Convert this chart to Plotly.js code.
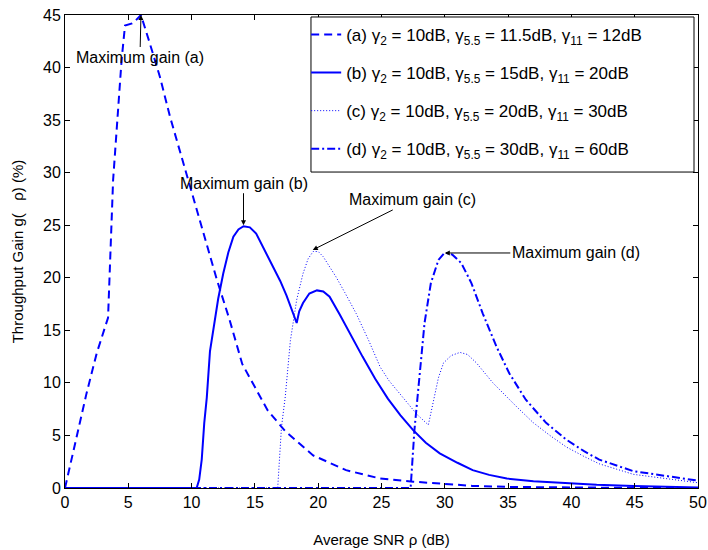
<!DOCTYPE html>
<html>
<head>
<meta charset="utf-8">
<script src="https://cdn.plot.ly/plotly-3.0.1.min.js"></script>
<style>html,body{margin:0;padding:0;background:#fff}#chart{width:708px;height:550px}</style>
</head>
<body>
<div id="chart"></div>
<script>
// Series (a)
const xA = [0, 0.9, 1.7, 2.5, 3.4, 3.8, 4.2, 4.47, 4.74, 5.0, 5.3, 5.6, 6.0, 6.7, 7.5, 8.3, 9.1, 9.6, 10, 11, 12, 13, 14, 15, 16, 17.4, 19.6, 22.2, 24.9, 27.5, 30.1, 32.2, 35, 40, 45, 50];
const yA = [0, 4.9, 9.0, 12.8, 16.2, 29.3, 36, 40.7, 44, 44.1, 44.2, 44.5, 45, 42.3, 39.1, 35.3, 31.9, 30, 28.3, 23.8, 19.8, 16, 11.8, 9.6, 7.4, 5.4, 3.1, 1.7, 0.9, 0.6, 0.35, 0.2, 0.1, 0.03, 0.01, 0];
// Series (b)
const xB = [0, 10.4, 10.6, 10.8, 11.0, 11.2, 11.45, 11.7, 12.1, 12.5, 12.9, 13.3, 13.7, 14.1, 14.6, 15.1, 15.7, 16.4, 17, 17.5, 18.3, 18.5, 18.8, 19.3, 19.9, 20.4, 20.9, 21.7, 22.5, 23.5, 24.5, 25.5, 26.5, 27.5, 28.5, 29.6, 31, 32.2, 33.5, 34.9, 37, 39.6, 42, 44.9, 47, 50];
const yB = [0, 0, 0.8, 2.7, 6.2, 8.6, 13.0, 14.9, 18.0, 20.4, 22.4, 23.9, 24.6, 24.9, 24.8, 24.2, 22.8, 21.1, 19.7, 18.3, 15.7, 16.8, 17.6, 18.5, 18.8, 18.7, 18.2, 16.5, 14.7, 12.5, 10.4, 8.5, 6.9, 5.5, 4.3, 3.3, 2.4, 1.7, 1.25, 0.9, 0.65, 0.45, 0.3, 0.2, 0.12, 0.05];
// Series (c)
const xC = [0, 16.8, 17.1, 17.4, 17.8, 18.3, 18.8, 19.2, 19.6, 20.0, 20.4, 21.4, 22.1, 23, 24, 24.9, 25.6, 26.4, 27.1, 27.8, 28.7, 29.1, 29.5, 29.9, 30.5, 31.2, 31.8, 32.5, 33.8, 35.7, 37, 38.3, 39.6, 41, 42.2, 44.9, 48.8, 50];
const yC = [0, 0, 5.8, 8.7, 14, 17.9, 20.4, 21.8, 22.5, 22.5, 22, 20.1, 18.6, 16.6, 14, 11.5, 10.2, 9, 8.0, 7.0, 6.0, 8.4, 10.5, 11.9, 12.6, 12.9, 12.7, 11.9, 10, 7.7, 6.2, 5.0, 3.9, 3.0, 2.3, 1.3, 0.7, 0.5];
// Series (d)
const xD = [0, 27.3, 27.6, 28, 28.4, 28.9, 29.5, 30, 30.6, 31.3, 32.1, 33, 34.1, 35.1, 36.4, 38, 39.6, 41, 42.2, 44.9, 48.8, 50];
const yD = [0, 0, 5.5, 10.9, 15.7, 19.5, 21.7, 22.4, 22.2, 21.4, 19.5, 16.6, 13.4, 10.9, 8.4, 6.2, 4.6, 3.5, 2.7, 1.6, 0.9, 0.7];

const names = [
  "(a) γ<sub>2</sub> = 10dB, γ<sub>5.5</sub> = 11.5dB, γ<sub>11</sub> = 12dB",
  "(b) γ<sub>2</sub> = 10dB, γ<sub>5.5</sub> = 15dB, γ<sub>11</sub> = 20dB",
  "(c) γ<sub>2</sub> = 10dB, γ<sub>5.5</sub> = 20dB, γ<sub>11</sub> = 30dB",
  "(d) γ<sub>2</sub> = 10dB, γ<sub>5.5</sub> = 30dB, γ<sub>11</sub> = 60dB"
];
const xTicks = [0,5,10,15,20,25,30,35,40,45,50];
const yTicks = [0,5,10,15,20,25,30,35,40,45];

const font = "Liberation Sans, Arial, Helvetica, sans-serif";
const blue = "#0000ff";

const traces = [
  {x:xA, y:yA, name:names[0], legendgroup:"a", mode:"lines", line:{color:blue, width:2, dash:"8px,5px"}},
  {x:xB, y:yB, name:names[1], legendgroup:"b", mode:"lines", line:{color:blue, width:2, dash:"solid"}},
  {x:xC, y:yC, name:names[2], legendgroup:"c", mode:"lines", line:{color:blue, width:1, dash:"1px,2px"}},
  {x:xD, y:yD, name:names[3], legendgroup:"d", mode:"lines", line:{color:blue, width:2, dash:"8px,3px,2px,3px"}}
];

const annFont = {family:font, size:16, color:"#000"};
const arrow = {showarrow:true, arrowhead:2, arrowsize:1, arrowwidth:1, arrowcolor:"#000", font:annFont};
const layout = {
  width:708, height:550,
  margin:{l:65, r:10, t:15, b:62},
  paper_bgcolor:"#fff", plot_bgcolor:"#fff",
  font:{family:font, size:16, color:"#000"},
  showlegend:true,
  legend:{x:0.381, y:0.996, xanchor:"left", yanchor:"top", bgcolor:"rgba(0,0,0,0)",
          borderwidth:0, font:{family:font, size:17, color:"#000"},
          tracegroupgap:13},
  shapes:[
    {type:"rect", xref:"paper", yref:"paper", x0:0.3886, x1:0.9937, y0:0.668, y1:0.9958,
     line:{color:"#000", width:1}, fillcolor:"#fff", layer:"above"}
  ],
  xaxis:{range:[0,50], tickvals:xTicks, ticks:"inside", ticklen:5, tickcolor:"#000",
         showline:true, linecolor:"#000", linewidth:1, mirror:"ticks", showgrid:false, zeroline:false,
         tickfont:{family:font, size:16}, title:{text:"Average SNR ρ (dB)", font:{family:font, size:15}, standoff:24}},
  yaxis:{range:[0,45], tickvals:yTicks, ticks:"inside", ticklen:5, tickcolor:"#000",
         showline:true, linecolor:"#000", linewidth:1, mirror:"ticks", showgrid:false, zeroline:false,
         tickfont:{family:font, size:16}, title:{text:"\u00a0\u00a0\u00a0\u00a0\u00a0Throughput Gain g(\u00a0\u00a0 ρ) (%)", font:{family:font, size:15}, standoff:15}},
  annotations:[
    Object.assign({x:6, y:45, text:"Maximum gain (a)", ax:-1, ay:42}, arrow),
    Object.assign({x:14.1, y:25, text:"Maximum gain (b)", ax:0, ay:-42}, arrow),
    Object.assign({x:19.57, y:22.65, text:"Maximum gain (c)", ax:100, ay:-50}, arrow),
    Object.assign({x:30, y:22.36, text:"Maximum gain (d)", ax:131, ay:0}, arrow)
  ]
};
Plotly.newPlot("chart", traces, layout, {displayModeBar:false, staticPlot:true});
</script>
</body>
</html>
